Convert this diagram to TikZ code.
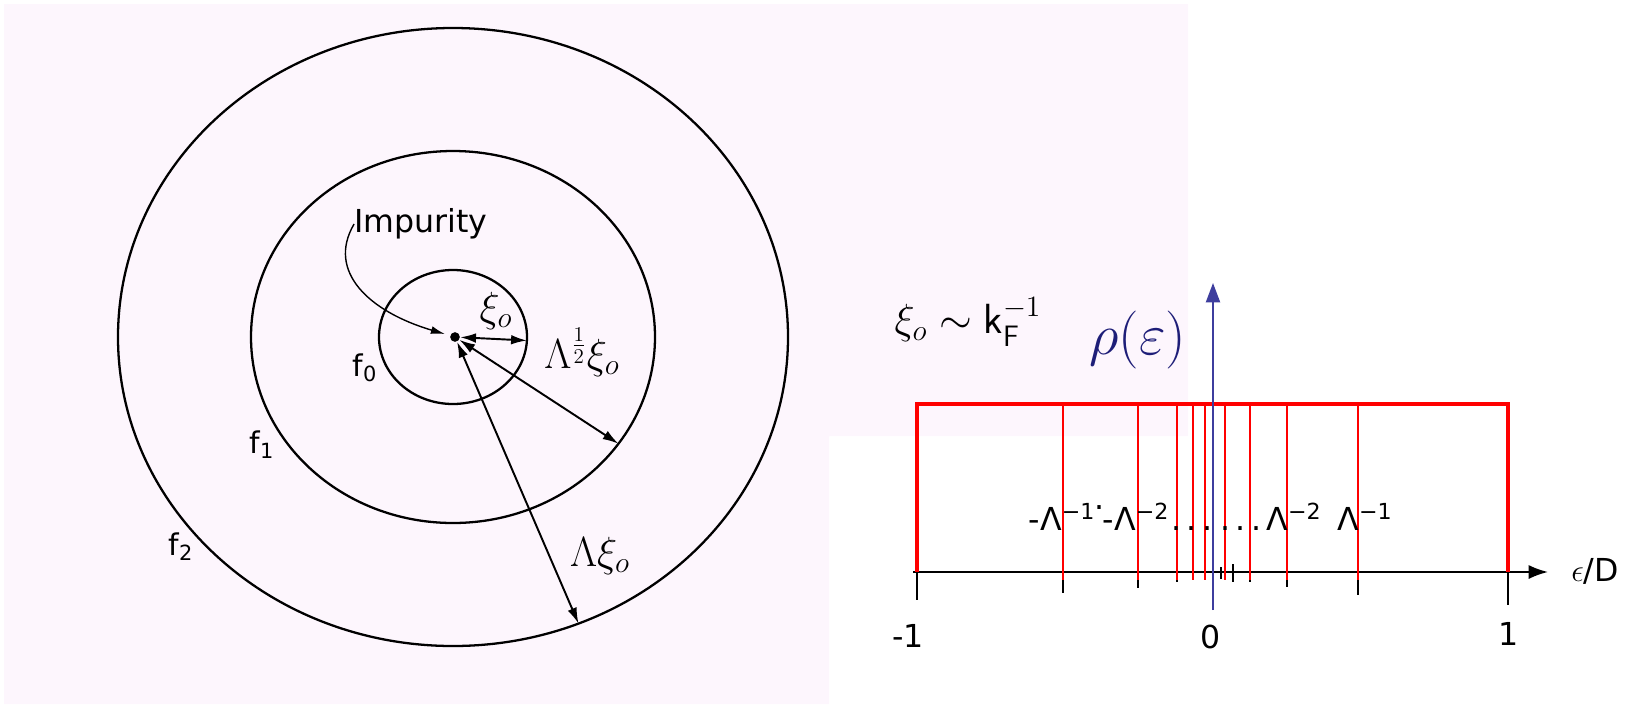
\RequirePackage{fix-cm}
\documentclass[tikz,border=0pt]{standalone}
\usepackage{amsmath,amssymb}
\usepackage{fontspec}
\usepackage{tikz}
\usetikzlibrary{arrows.meta,calc}
\newfontfamily\scanfont{DejaVu Sans}
\definecolor{bgpink}{RGB}{253,246,253}
\definecolor{dosblue}{RGB}{62,62,158}
\definecolor{dosnavy}{RGB}{30,30,120}
\definecolor{bandred}{RGB}{255,0,0}

\begin{document}
\begin{tikzpicture}[x=0.02cm, y=-0.02cm,
    ring/.style={line width=1.3pt},
    radial/.style={{Latex[length=9pt,width=5.5pt]}-{Latex[length=9pt,width=5.5pt]}, line width=1.1pt},
    scan/.style={font=\scanfont\fontsize{17}{20}\selectfont, inner sep=0pt},
    axlbl/.style={font=\scanfont\fontsize{18}{20}\selectfont, inner sep=0pt},
    mathlbl/.style={font=\fontsize{24}{28}\selectfont, inner sep=0pt},
    bandedge/.style={draw=bandred, line width=2.8pt},
    shell/.style={draw=bandred, line width=0.9pt},
    axtick/.style={line width=1.1pt}]
  \useasboundingbox (0,0) rectangle (1637,704);
  \fill[bgpink] (4,4) -- (1188,4) -- (1188,436) -- (829,436) -- (829,704) -- (4,704) -- cycle;

  % shells around the impurity
  \coordinate (c) at (453,337);
  \draw[ring] (c) ellipse [x radius=74, y radius=67];
  \draw[ring] (c) ellipse [x radius=202, y radius=186];
  \draw[ring] (c) ellipse [x radius=335, y radius=309];
  \node[circle, fill, inner sep=0pt, minimum size=5.5pt] (imp) at (455,337) {};
  \coordinate (e0) at ($(c)+(3:74 and 67)$);
  \coordinate (e1) at ($(c)+(35:202 and 186)$);
  \coordinate (e2) at ($(c)+(68:335 and 309)$);
  \draw[radial] (imp) -- (e0);
  \draw[radial] (imp) -- (e1);
  \draw[radial] (imp) -- (e2);

  \node[scan, font=\scanfont\fontsize{18}{20}\selectfont] (implbl) at (421,224) {Impurity};
  \draw[-{Latex[length=8pt,width=4.5pt]}, line width=0.8pt, shorten >=3pt]
    (implbl.west) .. controls (326,272) and (370,312) .. (imp);

  \node[mathlbl] (xi0) at (496,311) {$\xi_o$};
  \node[mathlbl] (xi1) at (582,352) {$\Lambda^{\frac{1}{2}}\xi_o$};
  \node[mathlbl] (xi2) at (600,556) {$\Lambda\xi_o$};
  \node[scan] (f0) at (365,368) {f\textsubscript{0}};
  \node[scan] (f1) at (262,445) {f\textsubscript{1}};
  \node[scan] (f2) at (181,547) {f\textsubscript{2}};

  % band and energy shells
  \node[font=\fontsize{24}{28}\selectfont, inner sep=0pt] (kf) at (968,322)
    {$\xi_o\sim \mathsf{k}_{\mathsf{F}}^{-1}$};
  \draw[line width=1.1pt, -{Latex[length=11pt,width=8pt]}] (913,572) -- (1548,572);
  \node[axlbl] (eD) at (1595,571) {$\epsilon$/D};
  \foreach \x/\a/\b in {917/572/600, 1063/550/593, 1138/558/588, 1177/565/582,
      1193/566/580, 1205/567/579, 1221/567/579, 1233/564/582, 1250/563/582,
      1287/555/587, 1358/548/595, 1508/572/605}
    \draw[axtick] (\x,\a) -- (\x,\b);

  \draw[bandedge] (917,572) -- (917,404) -- (1508,404) -- (1508,572);
  \foreach \x in {1063,1138,1177,1193,1205,1225,1250,1287,1358}
    \draw[shell] (\x,404) -- (\x,580);

  \node[axlbl] (lm1) at (1062,517) {-Λ\textsuperscript{−1}};
  \node[axlbl] (lm2) at (1136,517) {-Λ\textsuperscript{−2}};
  \node[axlbl] (lp2) at (1294,517) {Λ\textsuperscript{−2}};
  \node[axlbl] (lp1) at (1365,517) {Λ\textsuperscript{−1}};
  \node[axlbl] at (1100,512) {·};
  \node[axlbl] at (1192,529) {.\hspace{3pt}.\hspace{3pt}.};
  \node[axlbl] at (1241,529) {.\hspace{3pt}.\hspace{3pt}.};
  \node[axlbl] (tm) at (908,636) {-1};
  \node[axlbl] (t0) at (1211,637) {0};
  \node[axlbl] (tp) at (1509,634) {1};

  \draw[dosblue, line width=1.1pt, -{Triangle[length=11pt,width=8pt]}] (1213,610) -- (1213,283);
  \node[text=dosnavy, font=\fontsize{33}{38}\selectfont, inner sep=0pt] (rho) at (1138,340) {$\rho(\varepsilon)$};
\end{tikzpicture}
\end{document}
